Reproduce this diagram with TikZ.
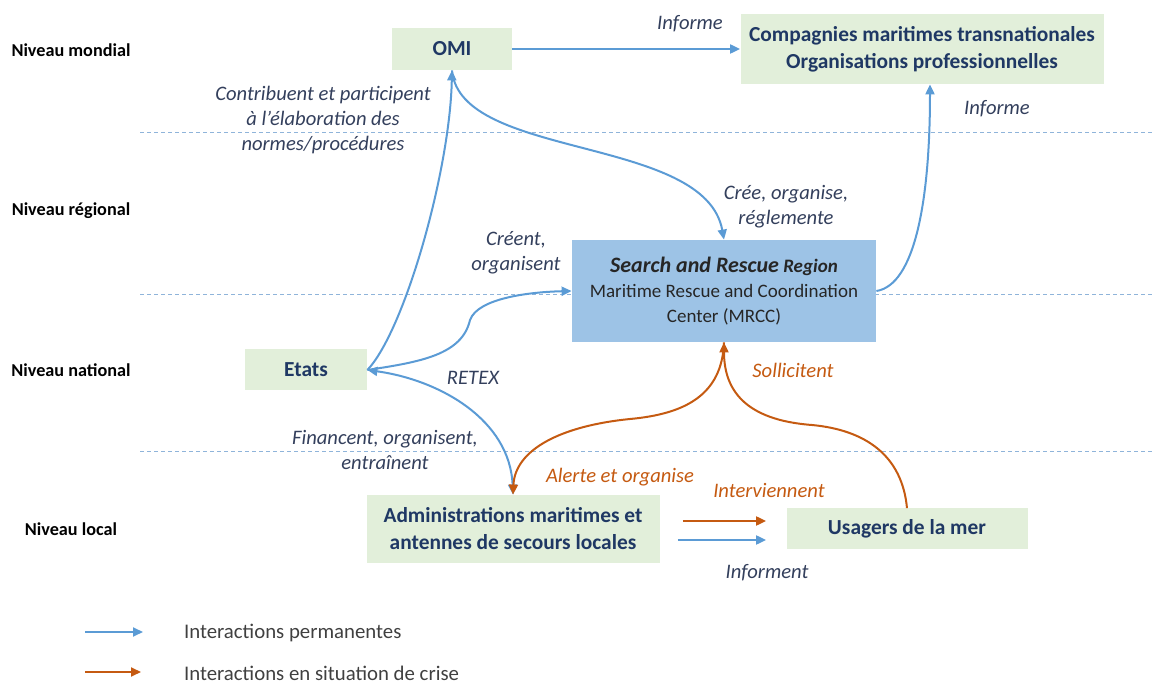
\documentclass[tikz,border=0pt]{standalone}
\usepackage{fontspec}
\setmainfont{Carlito}
\usepackage{xcolor}
\usepackage{tikz}
\usetikzlibrary{calc, arrows.meta, positioning}
\definecolor{actorgreen}{HTML}{E2EFDA}
\definecolor{regionblue}{HTML}{9DC3E6}
\definecolor{navytext}{HTML}{1F3864}
\definecolor{labelnavy}{HTML}{333F5C}
\definecolor{permblue}{HTML}{5B9BD5}
\definecolor{crisisorange}{HTML}{C55A11}
\definecolor{levelblue}{HTML}{8FB4DA}
\definecolor{legendgray}{HTML}{404040}
\tikzset{
  levellabel/.style={font=\fontsize{9.1}{11}\selectfont\bfseries, text=black},
  actor/.style={
    rectangle, fill=actorgreen, align=center, inner sep=1pt,
    font=\fontsize{10.7}{13.5}\selectfont\bfseries\color{navytext}
  },
  region/.style={
    rectangle, fill=regionblue, align=center, inner sep=1pt,
    font=\fontsize{9.5}{12.5}\selectfont\color{black!85}
  },
  permarrow/.style={-{Triangle[length=5pt, width=4.5pt]}, line width=1pt, color=permblue},
  crisisarrow/.style={-{Triangle[length=5pt, width=4.5pt]}, line width=1pt, color=crisisorange},
  permlabel/.style={font=\fontsize{10.3}{12.5}\selectfont\itshape, text=labelnavy, align=center},
  crisislabel/.style={font=\fontsize{10.3}{12.5}\selectfont\itshape, text=crisisorange, align=center},
  levelline/.style={color=levelblue, line width=0.5pt, dash pattern=on 2pt off 1.5pt},
  legendtext/.style={font=\fontsize{10.4}{12}\selectfont, text=legendgray, anchor=west},
}

\begin{document}
\begin{tikzpicture}[x=0.5pt, y=-0.5pt]

  \useasboundingbox (0,0) rectangle (1153,684);

  % --- Niveaux ---
  \draw[levelline] (140,133) -- (1153,133);
  \draw[levelline] (140,295) -- (1153,295);
  \draw[levelline] (140,452) -- (1153,452);

  \node[levellabel] (mondial)  at (71,50)  {Niveau mondial};
  \node[levellabel] (regional) at (71,211) {Niveau régional};
  \node[levellabel] (national) at (71,370) {Niveau national};
  \node[levellabel] (local)    at (71,529) {Niveau local};

  % --- Acteurs ---
  \node[actor, minimum width=60pt, minimum height=21pt] (omi) at (452,49) {OMI};
  \node[actor, minimum width=181.5pt, minimum height=35pt] (comp) at (922,49)
    {Compagnies maritimes transnationales\\Organisations professionnelles};
  \node[region, minimum width=152pt, minimum height=51pt] (sar) at (724,291)
    {{\fontsize{11}{13}\selectfont\bfseries\itshape Search and Rescue}
     {\bfseries\itshape Region}\\Maritime Rescue and Coordination\\Center (MRCC)};
  \node[actor, minimum width=61pt, minimum height=20.5pt] (etats) at (306,370) {Etats};
  \node[actor, minimum width=146.5pt, minimum height=34pt] (admin) at (513,529)
    {Administrations maritimes et\\antennes de secours locales};
  \node[actor, minimum width=120.5pt, minimum height=20.5pt] (usagers) at (907,529)
    {Usagers de la mer};

  % --- Interactions permanentes ---
  \draw[permarrow] (omi.east) -- (comp.west);
  \draw[permarrow] (etats.east) .. controls (405,330) and (450,170) .. (omi.south);
  \draw[permarrow] (omi.south) .. controls (460,160) and (705,135) .. (sar.north);
  \draw[permarrow] (sar.east) .. controls (915,285) and (930,200) .. ([xshift=4pt]comp.south);
  \draw[permarrow] (etats.east) .. controls (420,362) and (462,355) .. (470,320)
    .. controls (478,298) and (530,292) .. (sar.west);
  \draw[permarrow, {Triangle[length=5pt, width=4.5pt]}-{Triangle[length=5pt, width=4.5pt]}]
    (etats.east) .. controls (440,380) and (510,420) .. (admin.north);
  \draw[permarrow] ([xshift=9pt, yshift=-5.5pt]admin.east) -- ([xshift=-10pt, yshift=-5.5pt]usagers.west);

  % --- Interactions en situation de crise ---
  \draw[crisisarrow] (sar.south) .. controls (722,395) and (685,414) .. (630,419)
    .. controls (560,426) and (515,450) .. (admin.north);
  \draw[crisisarrow] (usagers.north) .. controls (902,455) and (865,430) .. (812,425)
    .. controls (745,420) and (724,390) .. (sar.south);
  \draw[crisisarrow] ([xshift=11.5pt, yshift=4pt]admin.east) -- ([xshift=-10pt, yshift=4pt]usagers.west);

  % --- Etiquettes ---
  \node[permlabel] (l-informe1) at (690,24) {Informe};
  \node[permlabel] (l-contrib) at (323,120)
    {Contribuent et participent\\à l’élaboration des\\normes/procédures};
  \node[permlabel] (l-cree) at (786,207) {Crée, organise,\\réglemente};
  \node[permlabel] (l-informe2) at (997,109) {Informe};
  \node[permlabel] (l-creent) at (516,253) {Créent,\\organisent};
  \node[permlabel] (l-retex) at (473,378) {RETEX};
  \node[permlabel] (l-financent) at (385,450) {Financent, organisent,\\entraînent};
  \node[permlabel] (l-informent) at (767,573) {Informent};
  \node[crisislabel] (l-alerte) at (620,477) {Alerte et organise};
  \node[crisislabel] (l-interv) at (769,490) {Interviennent};
  \node[crisislabel] (l-sollic) at (793,370) {Sollicitent};

  % --- Légende ---
  \coordinate (lgperm-a) at (85,632);
  \coordinate (lgperm-b) at (143,632);
  \coordinate (lgcrise-a) at (85,672);
  \coordinate (lgcrise-b) at (141,672);
  \draw[permarrow] (lgperm-a) -- (lgperm-b);
  \draw[crisisarrow] (lgcrise-a) -- (lgcrise-b);
  \node[legendtext] (lgperm) at (177,633) {Interactions permanentes};
  \node[legendtext] (lgcrise) at (177,673) {Interactions en situation de crise};

\end{tikzpicture}
\end{document}
